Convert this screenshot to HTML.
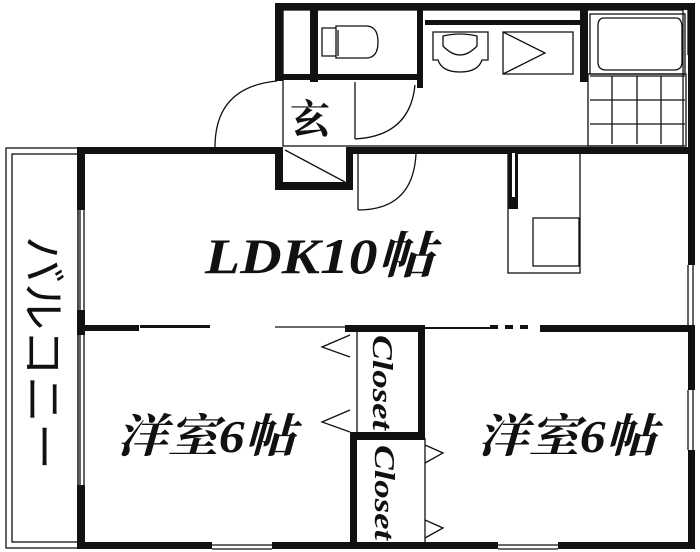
<!DOCTYPE html>
<html><head><meta charset="utf-8"><style>
html,body{margin:0;padding:0;background:#fff;width:700px;height:552px;overflow:hidden}
svg{display:block}
.t{font-family:"Liberation Serif","Noto Serif CJK SC",serif;font-style:italic;font-weight:bold;fill:#111}
</style></head><body>
<svg width="700" height="552" viewBox="0 0 700 552" xmlns="http://www.w3.org/2000/svg">
<g fill="none" stroke="#111" stroke-width="1.3">
 <rect x="6" y="148" width="72" height="400"/>
 <rect x="12" y="154" width="66" height="388"/>
 <rect x="283" y="10" width="400" height="136"/>
 <path d="M322 28 h14 v28 h-14 z M336 26 h30 q12 0 12 16 q0 16 -12 16 h-30 z M338 30 v26"/>
 <path d="M433 32 h55 v28 h-6 q-4 12 -22 12 q-18 0 -22 -12 h-5 z M443 36 q17 -4 34 0 v10 q-17 18 -34 0 z"/>
 <path d="M503 32 h70 v42 h-70 z M503 32 l42 21 l-42 21"/>
 <rect x="590" y="14" width="95" height="60"/>
 <path d="M604 18 h72 q6 0 6 10 v34 q0 8 -8 8 h-68 q-8 0 -8 -8 v-36 q0 -8 6 -8 z"/>
 <path d="M590 76 h95 M590 100 h95 M590 124 h95 M612 76 v68 M637 76 v68 M661 76 v68"/>
 <rect x="588" y="74" width="98" height="72"/>
 <path d="M215 147 q0 -60 62 -66"/>
 <path d="M355 139 q55 -3 60 -54 M355 139 v-57"/>
 <path d="M358 210 q55 0 58 -56 M358 210 v-56"/>
 <path d="M285 150 l60 32"/>
 <rect x="508" y="153" width="72" height="120"/>
 <rect x="533" y="218" width="46" height="48"/>
 <path d="M80 210 v100 M84 210 v100 M80 335 v150 M84 335 v150"/>
 <path d="M212 545 h60 M212 549 h60 M498 545 h60 M498 549 h60"/>
 <path d="M688 265 v60 M693 265 v60 M688 390 v60 M693 390 v60 M688 5 v50 M693 5 v50"/>
 <path d="M350 335 l-28 12 l28 10 M350 410 l-28 12 l28 10 M425 445 l18 8 l-18 10 M425 520 l18 8 l-18 10"/>
 <path d="M425 438 v110 M357 330 v102"/>
 <path d="M345 327 h-70 M190 327 h-40" />
</g>
<g fill="#111">
 <rect x="275" y="3" width="420" height="7"/>
 <rect x="275" y="3" width="8" height="78"/>
 <rect x="310" y="10" width="8" height="72"/>
 <rect x="275" y="74" width="145" height="6"/>
 <rect x="417" y="10" width="6" height="78"/>
 <rect x="425" y="20" width="155" height="5"/>
 <rect x="580" y="10" width="8" height="72"/>
 <rect x="688" y="3" width="7" height="262"/>
 <rect x="78" y="147" width="197" height="7"/>
 <rect x="353" y="147" width="337" height="7"/>
 <rect x="275" y="147" width="8" height="43"/>
 <rect x="275" y="182" width="78" height="8"/>
 <rect x="346" y="147" width="7" height="43"/>
 <rect x="77" y="147" width="8" height="63"/>
 <rect x="77" y="310" width="8" height="25"/>
 <rect x="77" y="485" width="8" height="64"/>
 <rect x="77" y="542" width="135" height="7"/>
 <rect x="272" y="542" width="226" height="7"/>
 <rect x="558" y="542" width="137" height="7"/>
 <rect x="688" y="325" width="7" height="65"/>
 <rect x="688" y="450" width="7" height="99"/>
 <rect x="77" y="325" width="62" height="6"/>
 <rect x="140" y="325" width="70" height="3"/>
 <rect x="345" y="325" width="80" height="7"/>
 <rect x="418" y="325" width="7" height="113"/>
 <rect x="350" y="432" width="75" height="8"/>
 <rect x="350" y="432" width="7" height="116"/>
 <rect x="425" y="327" width="65" height="2"/>
 <rect x="490" y="325" width="8" height="4"/>
 <rect x="505" y="325" width="8" height="4"/>
 <rect x="520" y="325" width="8" height="4"/>
 <rect x="540" y="325" width="150" height="7"/>
 <rect x="508" y="153" width="10" height="56"/>
 <rect x="512" y="153" width="3" height="44" fill="#fff"/>
</g>
<text class="t" x="205" y="273" font-size="50" textLength="230" lengthAdjust="spacingAndGlyphs">LDK10帖</text>
<text class="t" x="116" y="452" font-size="46" textLength="180" lengthAdjust="spacingAndGlyphs">洋室6帖</text>
<text class="t" x="477" y="452" font-size="46" textLength="180" lengthAdjust="spacingAndGlyphs">洋室6帖</text>
<text class="t" transform="translate(373,335) rotate(90)" font-size="28" textLength="95" lengthAdjust="spacingAndGlyphs">Closet</text>
<text class="t" transform="translate(375,445) rotate(90)" font-size="28" textLength="95" lengthAdjust="spacingAndGlyphs">Closet</text>
<text x="290" y="133" font-family="Liberation Serif,'Noto Serif CJK SC',serif" font-weight="bold" font-size="40" fill="#111">玄</text>
<text transform="translate(28,236) rotate(90)" font-family="Liberation Sans,'Noto Sans CJK JP',sans-serif" font-size="44" textLength="234" lengthAdjust="spacingAndGlyphs" fill="#111">バルコニー</text>
</svg>
</body></html>
